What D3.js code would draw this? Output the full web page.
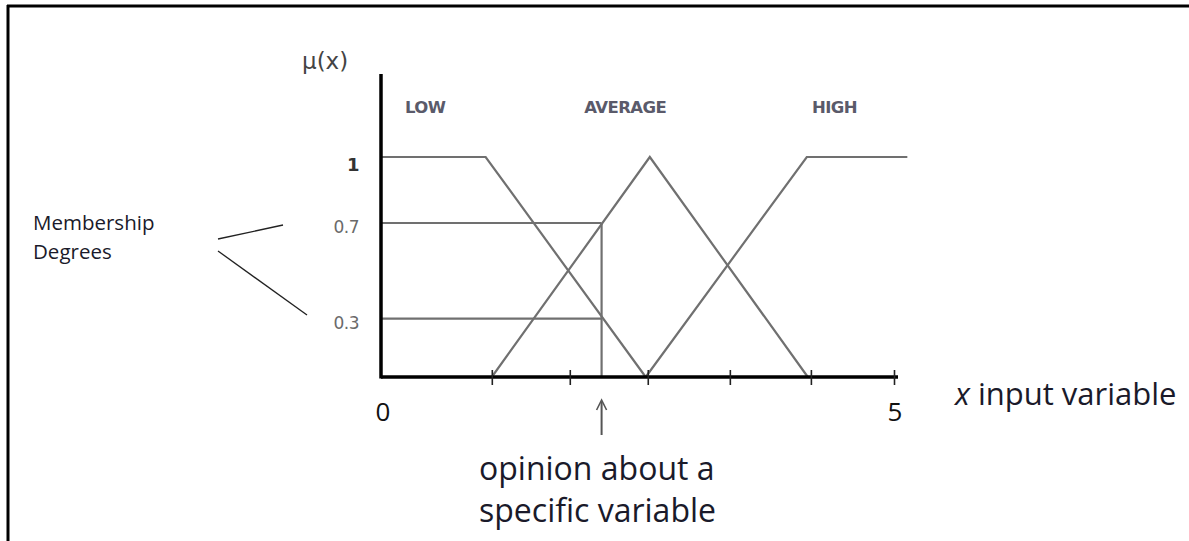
<!DOCTYPE html>
<html><head><meta charset="utf-8">
<script src="https://cdn.jsdelivr.net/npm/d3@7"></script>
<style>
html,body{margin:0;padding:0;background:#fff;}
svg{display:block;}
</style></head>
<body>
<svg id="chart" width="1189" height="541"></svg>
<script>
// ---- data ----
const setNames = ["LOW", "AVERAGE", "HIGH"];
const setLabelX = [0.43, 2.38, 4.42];          // x positions of the set names
const lowPts = [[0, 1], [1.02, 1], [2.58, 0]];
const averagePts = [[1.08, 0], [2.62, 1], [4.16, 0]];
const highPts = [[2.58, 0], [4.15, 1], [5.13, 1]];
const opinionValue = 2.15;
const membershipDegrees = [0.7, 0.265];
const yTickValues = [1, 0.7, 0.265];
const yTickLabels = ["1", "0.7", "0.3"];
const xTickValues = [1.08, 1.84, 2.6, 3.4, 4.19, 5];
const xLabelValues = [0, 5];
const xLabelText = ["0", "5"];

const svg = d3.select("#chart");
const x = d3.scaleLinear().domain([0, 5]).range([381, 894]);
const y = d3.scaleLinear().domain([0, 1]).range([377, 157]);

// frame (top + left)
svg.append("line").attr("x1", 7).attr("x2", 1189).attr("y1", 6).attr("y2", 6)
  .attr("stroke", "#000").attr("stroke-width", 3);
svg.append("line").attr("x1", 8).attr("x2", 8).attr("y1", 5).attr("y2", 541)
  .attr("stroke", "#000").attr("stroke-width", 3);

const grey = "#707070";
const line = d3.line().x(d => x(d[0])).y(d => y(d[1]));

// membership functions
[lowPts, averagePts, highPts].forEach(p => {
  svg.append("path").attr("d", line(p)).attr("fill", "none")
    .attr("stroke", grey).attr("stroke-width", 2.2).attr("stroke-linejoin", "miter");
});

// membership degree guides
membershipDegrees.forEach(m => {
  svg.append("line").attr("x1", x(0)).attr("x2", x(opinionValue))
    .attr("y1", y(m)).attr("y2", y(m)).attr("stroke", grey).attr("stroke-width", 2.2);
});
svg.append("line").attr("x1", x(opinionValue)).attr("x2", x(opinionValue))
  .attr("y1", y(d3.max(membershipDegrees))).attr("y2", y(0))
  .attr("stroke", grey).attr("stroke-width", 2.2);

// x axis
const xAxis = d3.axisBottom(x).tickValues(xTickValues).tickFormat("").tickSizeOuter(0);
const gx = svg.append("g").attr("transform", `translate(0,${y(0)})`).call(xAxis);
gx.select(".domain").attr("d", `M${x(0)},0H${x(5) + 4}`).attr("stroke", "#000").attr("stroke-width", 3.5);
gx.selectAll(".tick line").attr("y1", -7).attr("y2", 8).attr("stroke", "#222").attr("stroke-width", 1.6);

// y axis
svg.append("line").attr("x1", x(0)).attr("x2", x(0)).attr("y1", 74).attr("y2", y(0) + 1.5)
  .attr("stroke", "#000").attr("stroke-width", 3.5);

// y tick labels
svg.selectAll(".ylab").data(yTickValues).join("text")
  .attr("x", 359).attr("y", (d, i) => y(d) + (i === 0 ? 14 : 10))
  .attr("text-anchor", "end")
  .attr("font-family", "DejaVu Sans")
  .attr("font-size", (d, i) => i === 0 ? 18 : 17)
  .attr("font-weight", (d, i) => i === 0 ? "bold" : "normal")
  .attr("fill", (d, i) => i === 0 ? "#333" : "#6a6a6a")
  .attr("letter-spacing", -0.5)
  .text((d, i) => yTickLabels[i]);

// mu(x)
svg.append("text").attr("x", 302).attr("y", 69)
  .attr("font-family", "DejaVu Sans").attr("font-size", 23)
  .attr("fill", "#444").text("μ(x)");

// set names
svg.selectAll(".setname").data(setNames).join("text")
  .attr("x", (d, i) => x(setLabelX[i])).attr("y", 113)
  .attr("text-anchor", "middle")
  .attr("font-family", "DejaVu Sans").attr("font-size", 16.5)
  .attr("font-weight", "bold").attr("fill", "#5a5a6a")
  .attr("letter-spacing", -0.6)
  .text(d => d);

// x labels 0 and 5
svg.selectAll(".xlab").data(xLabelValues).join("text")
  .attr("x", d => x(d) + (d === 0 ? 2 : 1)).attr("y", 421)
  .attr("text-anchor", "middle")
  .attr("font-family", "Open Sans").attr("font-size", 26)
  .attr("fill", "#111").text((d, i) => xLabelText[i]);

// x axis title
const xt = svg.append("text").attr("x", 955).attr("y", 405)
  .attr("font-family", "Open Sans").attr("font-size", 31)
  .attr("fill", "#1a1a2a");
xt.append("tspan").attr("font-style", "italic").text("x");
xt.append("tspan").text(" input variable");

// arrow for opinion
svg.append("line").attr("x1", x(opinionValue)).attr("x2", x(opinionValue))
  .attr("y1", 402).attr("y2", 435).attr("stroke", "#555").attr("stroke-width", 2);
svg.append("path")
  .attr("d", `M${x(opinionValue) - 5},410L${x(opinionValue)},400L${x(opinionValue) + 5},410`)
  .attr("fill", "none").attr("stroke", "#555").attr("stroke-width", 1.6);

// opinion text
const ot = svg.append("text").attr("font-family", "Open Sans")
  .attr("font-size", 32).attr("fill", "#1a1a2a");
ot.append("tspan").attr("x", 479).attr("y", 480).text("opinion about a");
ot.append("tspan").attr("x", 479).attr("y", 522).text("specific variable");

// Membership Degrees annotation
const md = svg.append("text").attr("font-family", "Open Sans")
  .attr("font-size", 20.5).attr("fill", "#1a1a2a");
md.append("tspan").attr("x", 33).attr("y", 230).text("Membership");
md.append("tspan").attr("x", 33).attr("y", 259).text("Degrees");

svg.append("line").attr("x1", 218).attr("y1", 239).attr("x2", 283).attr("y2", 225)
  .attr("stroke", "#222").attr("stroke-width", 1.3);
svg.append("line").attr("x1", 218).attr("y1", 251).attr("x2", 307).attr("y2", 315)
  .attr("stroke", "#222").attr("stroke-width", 1.3);
</script>
</body></html>
